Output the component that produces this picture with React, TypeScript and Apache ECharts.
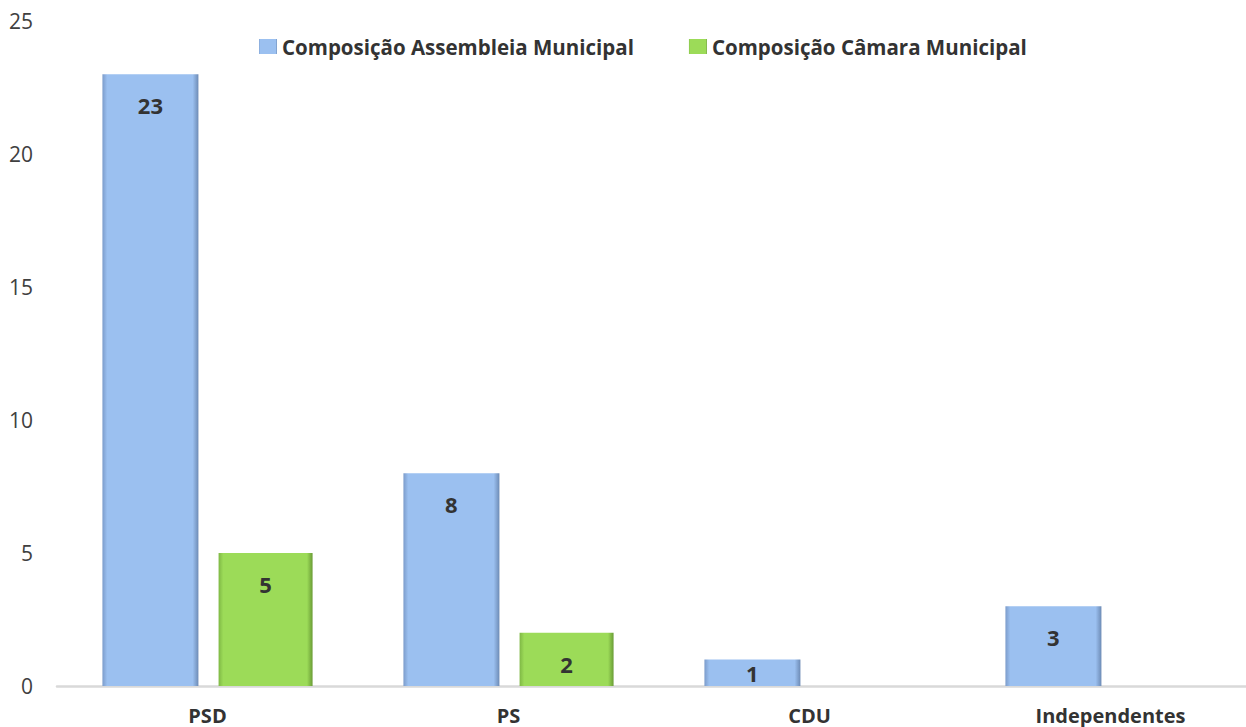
import React, { useEffect, useRef } from "react";
import * as echarts from "echarts";

const categories = ["PSD", "PS", "CDU", "Independentes"];
const assembleia = [23, 8, 1, 3];
const camara: (number | null)[] = [5, 2, null, null];
const yTicks = [0, 5, 10, 15, 20, 25];
const seriesNames = ["Composição Assembleia Municipal", "Composição Câmara Municipal"];

const blueFill = new echarts.graphic.LinearGradient(0, 0, 1, 0, [
  { offset: 0, color: "#7c9ccb" },
  { offset: 0.05, color: "#9bc0f0" },
  { offset: 0.94, color: "#9bc0f0" },
  { offset: 1, color: "#6d8bb5" },
]);
const greenFill = new echarts.graphic.LinearGradient(0, 0, 1, 0, [
  { offset: 0, color: "#7fb845" },
  { offset: 0.05, color: "#9cdb58" },
  { offset: 0.94, color: "#9cdb58" },
  { offset: 1, color: "#6a9c36" },
]);

const font = "'Open Sans', 'Noto Sans', sans-serif";

function toData(values: (number | null)[]) {
  return values.map((v) =>
    v !== null && v < 2
      ? { value: v, label: { position: "inside" } }
      : v
  );
}

export default function App() {
  const ref = useRef<HTMLDivElement>(null);
  useEffect(() => {
    if (!ref.current) return;
    const chart = echarts.init(ref.current, null, { renderer: "svg" });
    const labelStyle = {
      show: true,
      position: "insideTop",
      distance: 20,
      fontSize: 22,
      fontWeight: "bold",
      color: "#333333",
      fontFamily: font,
    };
    chart.setOption({
      animation: false,
      textStyle: { fontFamily: font },
      legend: {
        top: 31,
        left: 254,
        itemGap: 55,
        itemWidth: 18,
        itemHeight: 15,
        icon: "rect",
        textStyle: { fontSize: 20.5, fontWeight: "bold", color: "#333333", fontFamily: font },
        data: seriesNames,
      },
      grid: { left: 57, top: 21, width: 1204, height: 665, containLabel: false },
      xAxis: {
        type: "category",
        data: categories,
        axisLine: { show: true, lineStyle: { color: "#d9d9d9", width: 2.5 } },
        axisTick: { show: false },
        axisLabel: { fontSize: 20, fontWeight: "bold", color: "#333333", margin: 19, fontFamily: font },
      },
      yAxis: {
        type: "value",
        min: yTicks[0],
        max: yTicks[yTicks.length - 1],
        interval: 5,
        axisLine: { show: false },
        axisTick: { show: false },
        splitLine: { show: false },
        axisLabel: { fontSize: 21, color: "#404040", margin: 24, fontFamily: font },
      },
      series: [
        {
          name: seriesNames[0],
          type: "bar",
          data: toData(assembleia),
          barWidth: 96,
          barGap: "21%",
          itemStyle: { color: blueFill },
          label: labelStyle,
        },
        {
          name: seriesNames[1],
          type: "bar",
          data: toData(camara),
          barWidth: 94,
          itemStyle: { color: greenFill },
          label: labelStyle,
        },
      ],
    });
    return () => chart.dispose();
  }, []);
  return (
    <div
      style={{
        position: "fixed",
        left: 0,
        top: 0,
        width: 1246,
        height: 727,
        overflow: "hidden",
        background: "#ffffff",
      }}
    >
      <div ref={ref} style={{ width: 1290, height: 727 }} />
    </div>
  );
}
